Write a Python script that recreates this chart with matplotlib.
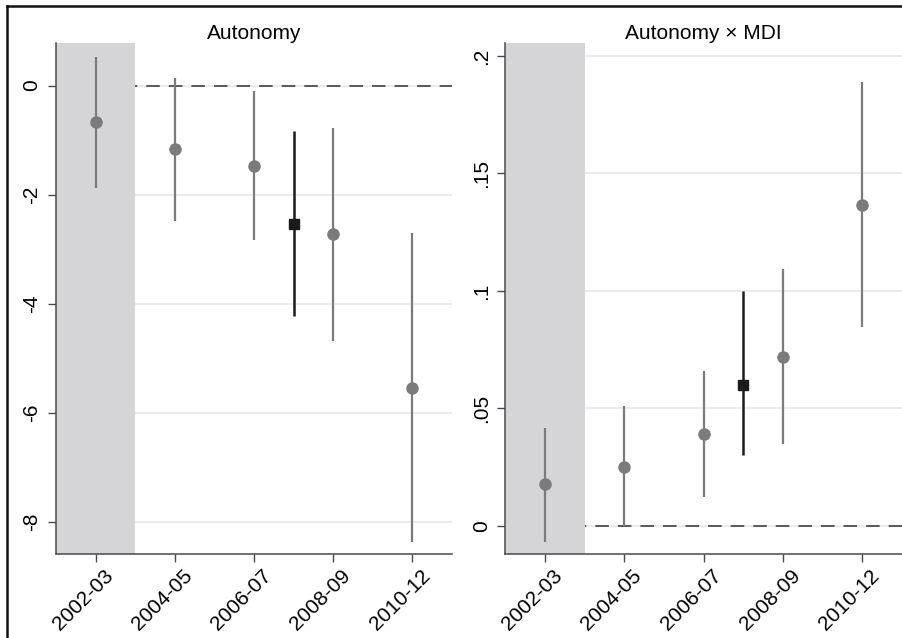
import numpy as np
import matplotlib
matplotlib.use("Agg")
import matplotlib.pyplot as plt
from matplotlib.lines import Line2D
import matplotlib.transforms as mtransforms

plt.rcParams['font.family'] = ['Liberation Sans', 'DejaVu Sans']

periods = ["2002-03", "2004-05", "2006-07", "2008-09", "2010-12"]

# panel 1: Autonomy (per-period estimates, then pooled estimate)
aut_est = [-0.67, -1.17, -1.47, -2.73, -5.54]
aut_lo = [-1.87, -2.48, -2.84, -4.68, -8.37]
aut_hi = [0.53, 0.135, -0.10, -0.77, -2.71]
aut_pool = [-2.54, -4.23, -0.83]   # est, lo, hi

# panel 2: Autonomy x MDI
mdi_est = [0.0176, 0.0252, 0.039, 0.072, 0.1367]
mdi_lo = [-0.0067, 0.0, 0.0123, 0.035, 0.0848]
mdi_hi = [0.0418, 0.0509, 0.0657, 0.1092, 0.189]
mdi_pool = [0.0599, 0.0301, 0.100]

aut_ticks = [0, -2, -4, -6, -8]
aut_ticklabels = ["0", "-2", "-4", "-6", "-8"]
mdi_ticks = [0, 0.05, 0.1, 0.15, 0.2]
mdi_ticklabels = ["0", ".05", ".1", ".15", ".2"]

GRAY = "#7b7b7d"
DARK = "#1c1a1b"
SPINE = "#4a4a4a"
FS = 15

fig = plt.figure(figsize=(9.03, 6.38), dpi=100)
W, H = 903, 638


def panel(rect, title, est, lo, hi, pool, ticks, ticklabels, ylim):
    ax = fig.add_axes(rect)
    x = np.arange(1, len(est) + 1)
    ax.set_xlim(0.5, 5.5)
    ax.set_ylim(*ylim)
    # grid lines
    for t in ticks:
        ax.axhline(t, color="#e8e8e8", lw=1.2, zorder=0)
    ax.axhline(0, color="#4d4d4d", lw=1.3, ls=(0, (7.5, 5)), zorder=1)
    # shaded reference period covers grid and zero line
    ax.axvspan(0.5, 1.5, color="#d5d5d7", lw=0, zorder=2)
    ax.vlines(x, lo, hi, color=GRAY, lw=1.6, zorder=3)
    ax.plot(x, est, "o", color=GRAY, ms=8, zorder=4)
    px = 3.5
    ax.vlines(px, pool[1], pool[2], color=DARK, lw=1.8, zorder=3)
    ax.plot(px, pool[0], "s", color=DARK, ms=7.5, zorder=4)

    ax.set_yticks(ticks)
    ax.set_yticklabels(ticklabels, rotation=90, va="center", fontsize=FS)
    ax.set_xticks(x)
    ax.tick_params(direction="out", length=5.5, width=1, color=SPINE, pad=5)
    ax.tick_params(axis="x", labelbottom=False)
    # rotated period labels, top-right corner pinned just right of each tick
    off = mtransforms.ScaledTranslation(8 / 100, -12 / 100, fig.dpi_scale_trans)
    for xi, lab in zip(x, periods):
        ax.text(xi, 0, lab, transform=ax.get_xaxis_transform() + off,
                rotation=45, ha="right", va="top", rotation_mode="anchor",
                fontsize=FS)
    for s in ["top", "right"]:
        ax.spines[s].set_visible(False)
    for s in ["left", "bottom"]:
        ax.spines[s].set_color(SPINE)
        ax.spines[s].set_linewidth(1.1)
    ax.set_title(title, fontsize=FS, pad=3)
    return ax


ax1 = panel([56 / W, 1 - 554 / H, 396 / W, 511 / H], "Autonomy",
            aut_est, aut_lo, aut_hi, aut_pool, aut_ticks, aut_ticklabels,
            (-8.59, 0.78))
ax2 = panel([505.3 / W, 1 - 554 / H, 396.4 / W, 511 / H], "Autonomy \u00d7 MDI",
            mdi_est, mdi_lo, mdi_hi, mdi_pool, mdi_ticks, mdi_ticklabels,
            (-0.012, 0.2055))

# outer frame (only left and top edges visible in the crop)
fig.add_artist(Line2D([7 / W, 7 / W], [0, 1 - 6 / H], color="#111111", lw=1.8,
                      transform=fig.transFigure))
fig.add_artist(Line2D([7 / W, 1], [1 - 6 / H, 1 - 6 / H], color="#111111", lw=1.8,
                      transform=fig.transFigure))

fig.savefig("out.png", dpi=100, facecolor="white")
